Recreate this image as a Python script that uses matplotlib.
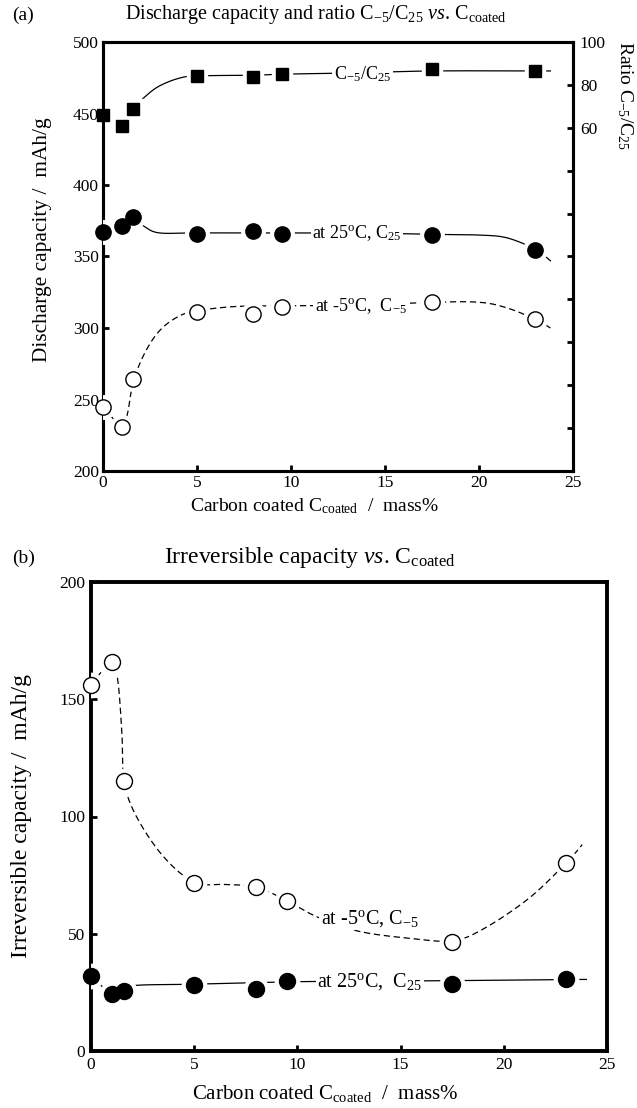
import matplotlib
matplotlib.use("Agg")
import matplotlib.pyplot as plt
import numpy as np

plt.rcParams['font.family'] = ['Liberation Serif', 'DejaVu Serif']
plt.rcParams['mathtext.fontset'] = 'custom'
plt.rcParams['mathtext.rm'] = 'Liberation Serif'
plt.rcParams['mathtext.it'] = 'Liberation Serif:italic'

# ---- data ----
coated = [0, 1, 1.6, 5, 8, 9.5, 17.5, 23]

# panel (a)
ratio = [66, 61, 68.8, 84.1, 83.5, 85.1, 87.3, 86.5]
cap_25 = [367, 371, 377.5, 366, 367.6, 366, 365, 354.7]
cap_m5 = [245, 231, 264, 311, 310, 315, 318, 306]

# panel (b)
irr_25 = [32, 24.5, 25.5, 28, 26.5, 30, 28.5, 30.5]
irr_m5 = [156, 166, 115, 71.5, 70, 64, 46.5, 80]

# hand drawn guide curves (knots)
ratio_gx = [0, 1, 1.6, 2.3, 3, 4, 5, 8, 9.5, 13, 17.5, 23, 23.8]
ratio_gy = [66, 61, 68.8, 75, 79.5, 83, 84.2, 84.5, 85, 85.5, 86.5, 86.5, 86.5]
c25_gx = [0, 1, 1.6, 2.2, 3, 5, 9.5, 13.5, 17.5, 20, 21.5, 23, 23.8]
c25_gy = [367, 371, 377, 371, 366.5, 366.5, 366.5, 366.5, 365.5, 365, 363, 355, 347]
cm5_gx = [0, 1, 1.3, 1.6, 2.2, 3, 4, 5, 7, 9.5, 13.5, 17.5, 20, 21.5, 23, 23.8]
cm5_gy = [245, 231, 240, 262, 282, 298, 308, 312, 315, 315.5, 316, 318, 318, 314, 306, 300]
i25_gx = [0, 1, 1.6, 2.2, 5, 9.5, 13.5, 17.5, 23, 24]
i25_gy = [32, 24.5, 26, 28, 28.5, 29.5, 29.8, 30, 30.5, 30.5]
im5_gx = [0, 1, 1.3, 1.5, 1.6, 2.2, 3.5, 5, 6.5, 8, 9.5, 11, 13, 15.5, 17.5, 19, 21.2, 23, 23.8]
im5_gy = [156, 166, 158, 135, 115, 100, 83, 72, 71, 70, 64, 57, 51, 48, 47, 52, 65, 80, 88]


def smooth(xk, yk, n=20):
    p = np.column_stack([xk, yk]).astype(float)
    p = np.vstack([p[0], p, p[-1]])
    out = []
    for i in range(1, len(p) - 2):
        p0, p1, p2, p3 = p[i - 1], p[i], p[i + 1], p[i + 2]
        t = np.linspace(0, 1, n)[:, None]
        seg = 0.5 * ((2 * p1) + (-p0 + p2) * t + (2 * p0 - 5 * p1 + 4 * p2 - p3) * t ** 2
                     + (-p0 + 3 * p1 - 3 * p2 + p3) * t ** 3)
        out.append(seg)
    out = np.vstack(out)
    return out[:, 0], out[:, 1]


def series(ax, gx, gy, x, y, marker, filled, ls, ms):
    sx, sy = smooth(gx, gy)
    ax.plot(sx, sy, color='black', lw=0.9, ls=ls, dashes=(5, 3) if ls == '--' else (None, None),
            zorder=2)
    # white halo only inside the axes, so it makes the gaps in the line
    ax.plot(x, y, ls='none', marker=marker, ms=ms + 6, mfc='white', mec='white', zorder=3)
    ax.plot(x, y, ls='none', marker=marker, ms=ms, mfc='black' if filled else 'white',
            mec='black', mew=1.0, zorder=4, clip_on=False)


def style(ax):
    for s in ax.spines.values():
        s.set_linewidth(2.2)
    ax.tick_params(direction='in', length=4, width=2, labelsize=12.5, pad=4)


W, H = 637, 1108
fig = plt.figure(figsize=(W / 100, H / 100), dpi=100)

# ---------- (a) ----------
ax1 = fig.add_axes([103 / W, 1 - 471 / H, 470 / W, 429 / H])
ax2 = ax1.twinx()
ax1.set_zorder(2)
ax1.patch.set_visible(False)
series(ax1, c25_gx, c25_gy, coated, cap_25, 'o', True, '-', 11)
series(ax1, cm5_gx, cm5_gy, coated, cap_m5, 'o', False, '--', 11)
series(ax2, ratio_gx, ratio_gy, coated, ratio, 's', True, '-', 8.5)
ax1.set_xlim(0, 25)
ax1.set_ylim(200, 500)
ax1.set_xticks(range(0, 26, 5))
ax1.set_yticks(range(200, 501, 50))
ax2.set_ylim(-100, 100)
ax2.set_yticks(range(-100, 101, 20))
ax2.set_yticklabels(['' if v < 60 else str(v) for v in range(-100, 101, 20)])
style(ax1)
style(ax2)
ax1.tick_params(top=False, right=False, pad=3)
ax2.tick_params(pad=5)

box = dict(facecolor='white', edgecolor='none', pad=1)
ax2.text(13.8, 84.8, r'C$_{\mathregular{-5}}$/C$_{\mathregular{25}}$', fontsize=13,
         ha='center', va='center', bbox=box, zorder=5)
ax1.text(13.5, 366.5, r'at 25$^{\mathregular{o}}$C, C$_{\mathregular{25}}$', fontsize=13,
         ha='center', va='center', bbox=box, zorder=5)
ax1.text(13.7, 315.5, r'at -5$^{\mathregular{o}}$C,  C$_{\mathregular{-5}}$', fontsize=13,
         ha='center', va='center', bbox=box, zorder=5)

fig.text(12 / W, 1 - 15 / H, '(a)', fontsize=14, va='center')
fig.text(316 / W, 1 - 15 / H,
         r'Discharge capacity and ratio C$_{\mathregular{-5}}$/C$_{\mathregular{25}}$ '
         r'$\it{vs}$. C$_{\mathregular{coated}}$', fontsize=14.5, ha='center', va='center')
fig.text(43 / W, 1 - 240 / H, 'Discharge capacity /  mAh/g', fontsize=15.4,
         rotation=90, ha='center', va='center')
fig.text(625 / W, 1 - 95 / H, r'Ratio C$_{\mathregular{-5}}$/C$_{\mathregular{25}}$',
         fontsize=14, rotation=270, ha='center', va='center')
fig.text(314 / W, 1 - 506 / H, r'Carbon coated C$_{\mathregular{coated}}$  /  mass%',
         fontsize=14, ha='center', va='center')

# ---------- (b) ----------
ax3 = fig.add_axes([91 / W, 1 - 1051 / H, 516 / W, 469 / H])
series(ax3, i25_gx, i25_gy, coated, irr_25, 'o', True, '-', 11.5)
series(ax3, im5_gx, im5_gy, coated, irr_m5, 'o', False, '--', 11.5)
ax3.set_xlim(0, 25)
ax3.set_ylim(0, 200)
ax3.set_xticks(range(0, 26, 5))
ax3.set_yticks(range(0, 201, 50))
style(ax3)
for s in ax3.spines.values():
    s.set_linewidth(2.8)
ax3.text(13.5, 29.5, r'at 25$^{\mathregular{o}}$C,  C$_{\mathregular{25}}$', fontsize=14.5,
         ha='center', va='center', bbox=box, zorder=5)
ax3.text(13.5, 56.5, r'at -5$^{\mathregular{o}}$C, C$_{\mathregular{-5}}$', fontsize=14.5,
         ha='center', va='center', bbox=box, zorder=5)

fig.text(12 / W, 1 - 558 / H, '(b)', fontsize=14, va='center')
fig.text(310 / W, 1 - 558 / H, r'Irreversible capacity $\it{vs}$. C$_{\mathregular{coated}}$',
         fontsize=17, ha='center', va='center')
fig.text(22 / W, 1 - 816 / H, 'Irreversible capacity /  mAh/g', fontsize=17,
         rotation=90, ha='center', va='center')
fig.text(325 / W, 1 - 1093 / H, r'Carbon coated C$_{\mathregular{coated}}$  /  mass%',
         fontsize=15, ha='center', va='center')

fig.savefig('out.png', dpi=100)
